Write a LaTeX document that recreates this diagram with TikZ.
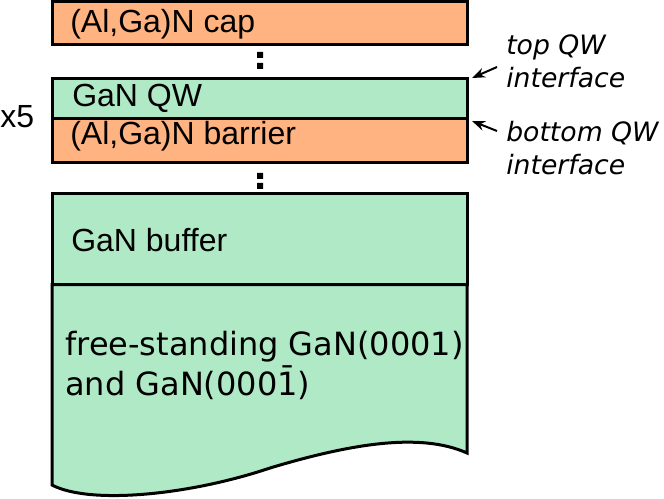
\documentclass[tikz,border=0pt]{standalone}
\usepackage{fontspec}
\setmainfont{Liberation Sans}
\newfontfamily\djv{DejaVu Sans}
\usetikzlibrary{arrows.meta,positioning}
\definecolor{barrierc}{HTML}{FFB380}
\definecolor{wellc}{HTML}{AFE9C6}
\tikzset{
  every picture/.style={line join=miter, >=Stealth},
  layer/.style={draw, line width=2.25pt, anchor=north west, minimum width=311.25pt, inner sep=0pt, outer sep=0pt},
  barrier/.style={layer, fill=barrierc},
  well/.style={layer, fill=wellc},
  txt/.style={anchor=base west, inner sep=0pt, font=\fontsize{24}{28}\selectfont},
  lbl/.style={anchor=base west, inner sep=0pt, align=left, font=\djv\fontsize{20}{24.75}\selectfont\itshape},
  dot/.style={fill=black},
}
\begin{document}
\begin{tikzpicture}[x=0.75pt,y=-0.75pt]
\useasboundingbox (0,0) rectangle (664,499);
% layer stack
\node[barrier, minimum height=32.25pt] (cap) at (52,1.5) {};
\node[well, minimum height=29.625pt] (qw) at (52,79) {};
\node[barrier, minimum height=33.375pt] (bar) at (52,118.5) {};
\node[well, minimum height=68.25pt] (buf) at (52,193.5) {};
% substrate with broken bottom edge
\draw[line width=2.25pt, fill=wellc] (buf.south west) -- (52,485)
  .. controls (90,505) and (190,495) .. (270,468)
  .. controls (350,444) and (420,432) .. (467,453) -- (buf.south east) -- cycle;
% dots
\fill[dot] (257,52) rectangle (263,58) (257,63) rectangle (263,69);
\fill[dot] (257,173) rectangle (263,179) (257,183) rectangle (263,189);
% texts (base = last line)
\node[txt] (capT) at (70,33) {(Al,Ga)N cap};
\node[txt] (qwT) at (72,107) {GaN QW};
\node[txt] (barT) at (70,145) {(Al,Ga)N barrier};
\node[txt] (bufT) at (71,252) {GaN buffer};
\node[txt, font=\djv\fontsize{24}{30}\selectfont, align=left] (subT) at (65,395)
  {free-standing GaN(0001)\\and GaN(000\={1})};
\node[txt] (rep) at (0,128) {x5};
% interface labels
\node[lbl] (top) at (506,88) {top QW\\interface};
\node[lbl] (bot) at (506,175) {bottom QW\\interface};
\coordinate (topA) at (497,67);
\coordinate (botA) at (497,131);
\draw[->, line width=1.5pt] (topA) -- ([shift={(5,-1)}]qw.north east);
\draw[->, line width=1.5pt] (botA) -- ([shift={(5,2.5)}]qw.south east);
\end{tikzpicture}
\end{document}
